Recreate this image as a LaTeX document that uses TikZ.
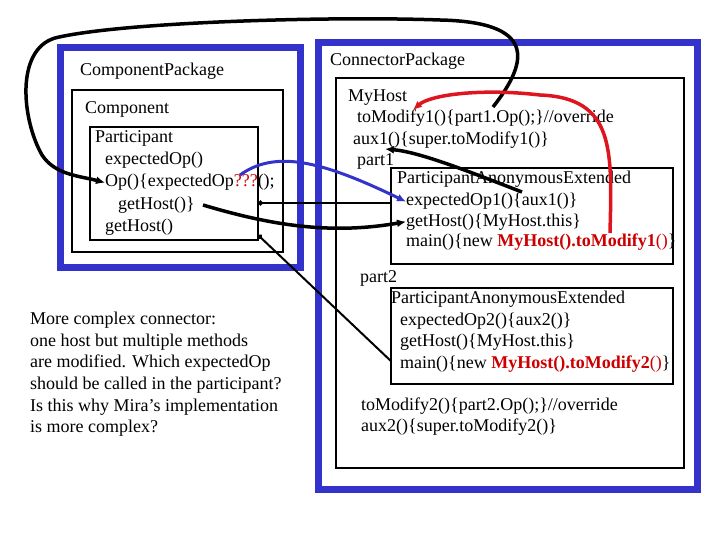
\documentclass[tikz,border=0pt]{standalone}
\usepackage{fontspec}
\setmainfont{Liberation Serif}
\usetikzlibrary{arrows.meta,fit,calc}
\definecolor{pkgBlue}{RGB}{51,51,204}
\definecolor{hostRed}{RGB}{204,0,0}
\definecolor{arcRed}{RGB}{222,20,30}

\begin{document}
\begin{tikzpicture}[x=1pt, y=-1pt,
  pkg/.style={draw=pkgBlue, line width=7pt, inner sep=0pt},
  frame/.style={draw, line width=1.1pt, inner sep=0pt},
  txt/.style={anchor=base west, inner sep=0pt, font=\fontsize{18}{21.6}\selectfont},
  heavy/.style={-{Latex[length=9pt,width=8pt]}, line width=3.5pt},
  bluearc/.style={-{Latex[length=9pt,width=8pt]}, draw=pkgBlue, line width=3pt},
  redarc/.style={-{Latex[length=9pt,width=8pt]}, draw=arcRed, line width=3.5pt},
  link/.style={{Circle[length=5pt]}-, line width=2pt}
]
\useasboundingbox (0,0) rectangle (720,540);
\node[pkg, fit={(60,48) (300,267)}] (cpkgbox) {};
\node[frame, fit={(72,90) (283,252)}] (compbox) {};
\node[frame, fit={(90,127) (258,240)}] (partbox) {};
\node[pkg, fit={(318,43) (697,489)}] (conpkgbox) {};
\node[frame, fit={(336,78) (684,468)}] (hostbox) {};
\node[frame, fit={(391,168) (673,264)}] (paebox1) {};
\node[frame, fit={(391,288) (673,384)}] (paebox2) {};

\node[txt] (cpkg) at (80,76) {ComponentPackage};
\node[txt] (comp) at (85,114) {Component};
\node[txt] (part) at (95,143) {Participant};
\node[txt] (expop) at (105,165) {expectedOp()};
\node[txt] (opln) at (105,187) {Op()\{expectedOp\textcolor{hostRed}{???}();};
\node[txt] (ghin) at (118,210) {getHost()\}};
\node[txt] (gh) at (105,232) {getHost()};

\node[txt] (conpkg) at (330,66) {ConnectorPackage};
\node[txt] (host) at (348,102) {MyHost};
\node[txt] (tm1) at (357,123) {toModify1()\{part1.Op();\}//override};
\node[txt] (aux1) at (353,145) {aux1()\{super.toModify1()\}};
\node[txt] (p1) at (357,166) {part1};
\node[txt] (pae1) at (397,184) {ParticipantAnonymousExtended};
\node[txt] (exp1) at (406,206) {expectedOp1()\{aux1()\}};
\node[txt] (gh1) at (406,226) {getHost()\{MyHost.this\}};
\node[txt] (main1) at (406,247) {main()\{new \textcolor{hostRed}{\textbf{MyHost().toModify1}()}\}};
\node[txt] (p2) at (360,282) {part2};
\node[txt] (pae2) at (391,303) {ParticipantAnonymousExtended};
\node[txt] (exp2) at (400,325) {expectedOp2()\{aux2()\}};
\node[txt] (gh2) at (400,346) {getHost()\{MyHost.this\}};
\node[txt] (main2) at (400,368) {main()\{new \textcolor{hostRed}{\textbf{MyHost().toModify2}()}\}};
\node[txt] (tm2) at (361,410) {toModify2()\{part2.Op();\}//override};
\node[txt] (aux2) at (361,431) {aux2()\{super.toModify2()\}};

\node[txt, anchor=north west, align=left] (note) at (30,312) {More complex connector:\\
one host but multiple methods\\
are modified. Which expectedOp\\
should be called in the participant?\\
Is this why Mira’s implementation\\
is more complex?};

\coordinate (opcall) at (493,107);
\coordinate (ghsrc) at (203,205);
\coordinate (qsrc) at (240,175);
\coordinate (mainsrc) at (610,233);
\coordinate (tmtip) at (413,110);
\coordinate (auxsrc) at (522,192);
\coordinate (auxtip) at (385,149);
\coordinate (dot1) at (258,203);
\coordinate (dot2) at (258,235);

\draw[heavy] (opcall) .. controls (530,60) and (535,22) .. (440,20)
  .. controls (330,16) and (120,22) .. (55,38)
  .. controls (15,50) and (22,120) .. (42,155)
  .. controls (55,175) and (80,176) .. (opln.west);
\draw[heavy] (ghsrc) .. controls (270,225) and (330,235) .. (gh1.west);
\draw[bluearc] (qsrc) .. controls (275,150) and (320,160) .. (exp1.west);
\draw[heavy] (auxsrc) .. controls (470,172) and (420,152) .. (auxtip);
\draw[redarc] (mainsrc) .. controls (612,150) and (615,98) .. (540,95)
  .. controls (480,88) and (430,95) .. (tmtip);
\draw[link] (dot1) -- (dot1 -| paebox1.west);
\draw[link] (dot2) -- ($(paebox2.west |- main2.west)+(0,-3)$);
\end{tikzpicture}
\end{document}
